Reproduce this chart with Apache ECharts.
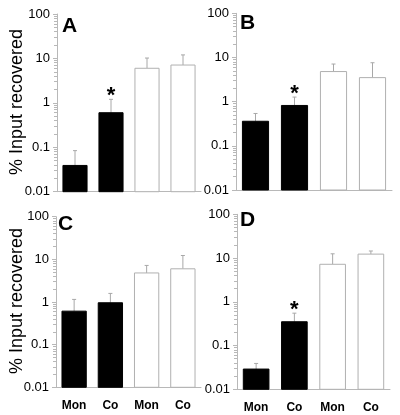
<!DOCTYPE html>
<html><head><meta charset="utf-8">
<script src="https://cdn.jsdelivr.net/npm/echarts@6/dist/echarts.min.js"></script>
<style>html,body{margin:0;padding:0;background:#fff}#c{width:400px;height:415px}</style>
</head><body><div id="c"></div>
<script>
// ---- data ----
const categories = ['Mon', 'Co', 'Mon', 'Co'];
const yTickLabels = ['0.01', '0.1', '1', '10', '100'];
const panelLabels = ['A', 'B', 'C', 'D'];
const yTitle = '% Input recovered';

const meansA = [0.039, 0.6, 6.0, 7.1];
const errTopA = [0.084, 1.2, 10.2, 12.0];
const starsA = [0, 1, 0, 0];

const meansB = [0.36, 0.82, 4.8, 3.5];
const errTopB = [0.54, 1.27, 7.1, 7.6];
const starsB = [0, 1, 0, 0];

const meansC = [0.61, 0.96, 4.8, 6.0];
const errTopC = [1.15, 1.59, 7.2, 12.3];
const starsC = [0, 0, 0, 0];

const meansD = [0.029, 0.35, 7.2, 12.3];
const errTopD = [0.039, 0.55, 12.5, 14.5];
const starsD = [0, 1, 0, 0];

const filled = [1, 1, 0, 0];

// ---- chart ----
const FONT = 'Liberation Sans, Arial, sans-serif';
const AX = '#b8b8b8';
const grids = [
  {left: 57, top: 14, width: 144, height: 177.7},
  {left: 236, top: 13.3, width: 156, height: 176.7},
  {left: 56, top: 216.7, width: 145, height: 170.6},
  {left: 237, top: 214.3, width: 153, height: 175}
];
const panels = [
  [meansA, errTopA, starsA],
  [meansB, errTopB, starsB],
  [meansC, errTopC, starsC],
  [meansD, errTopD, starsD]
];

function labelFor(v) {
  let best = yTickLabels[0], bd = Infinity;
  yTickLabels.forEach(s => { const d = Math.abs(Math.log10(parseFloat(s)) - Math.log10(v)); if (d < bd) { bd = d; best = s; } });
  return best;
}

const xAxes = [], yAxes = [], series = [];
grids.forEach((g, gi) => {
  xAxes.push({
    type: 'category', gridIndex: gi, data: categories, boundaryGap: true,
    axisLine: {show: true, lineStyle: {color: AX, width: 1}},
    axisTick: {show: false},
    axisLabel: {show: gi >= 2, color: '#000', fontFamily: FONT, fontWeight: 'bold', fontSize: 12, margin: 12}
  });
  yAxes.push({
    type: 'log', gridIndex: gi, logBase: 10, min: 0.01, max: 100,
    axisLine: {show: true, lineStyle: {color: AX, width: 1}},
    axisTick: {show: true, length: 4, lineStyle: {color: AX}},
    minorTick: {show: true, splitNumber: 9, length: 3, lineStyle: {color: AX}},
    splitLine: {show: false},
    axisLabel: {color: '#000', fontFamily: FONT, fontSize: 13, margin: 7, formatter: v => labelFor(v)}
  });
  const [m, e, s] = panels[gi];
  const data = m.map((v, i) => [i, v, e[i], s[i], filled[i]]);
  series.push({
    type: 'custom', xAxisIndex: gi, yAxisIndex: gi, data: data,
    encode: {x: 0, y: [1, 2]},
    clip: false,
    renderItem: function (params, api) {
      const i = api.value(0), v = api.value(1), et = api.value(2), st = api.value(3), f = api.value(4);
      const top = api.coord([i, v]);
      const base = api.coord([i, 0.01]);
      const err = api.coord([i, et]);
      const band = api.size([1, 1])[0];
      const bw = band * 0.67;
      const cx = top[0];
      const children = [];
      children.push({
        type: 'line', shape: {x1: cx, y1: top[1], x2: cx, y2: err[1]},
        style: {stroke: '#a8a8a8', lineWidth: 1}
      });
      children.push({
        type: 'line', shape: {x1: cx - 2, y1: err[1], x2: cx + 2, y2: err[1]},
        style: {stroke: '#a8a8a8', lineWidth: 1}
      });
      children.push({
        type: 'rect', shape: {x: cx - bw / 2, y: top[1], width: bw, height: base[1] - top[1]},
        style: f ? {fill: '#000', stroke: '#000', lineWidth: 1} : {fill: '#fff', stroke: '#b0b0b0', lineWidth: 1}
      });
      if (st) {
        children.push({
          type: 'text',
          style: {text: '*', x: cx, y: err[1] - 3, align: 'center', verticalAlign: 'middle',
            font: 'bold 22px ' + FONT, fill: '#000'}
        });
      }
      return {type: 'group', children: children};
    }
  });
});

const letterPos = [[62, 27], [240, 24], [58, 225], [240, 221]];
const titlePos = [[17, 102], [17, 301]];
const graphic = [];
panelLabels.forEach((t, i) => {
  graphic.push({type: 'text', left: letterPos[i][0], top: letterPos[i][1] - 11, z: 10,
    style: {text: t, font: 'bold 21px ' + FONT, fill: '#000'}});
});
titlePos.forEach(p => {
  graphic.push({type: 'text', x: p[0], y: p[1], rotation: Math.PI / 2, z: 10,
    style: {text: yTitle, font: '18px ' + FONT, fill: '#000', align: 'center', verticalAlign: 'middle'}});
});

const chart = echarts.init(document.getElementById('c'), null, {renderer: 'canvas'});
chart.setOption({
  animation: false,
  backgroundColor: '#fff',
  grid: grids,
  xAxis: xAxes,
  yAxis: yAxes,
  series: series,
  graphic: graphic
});
</script></body></html>
